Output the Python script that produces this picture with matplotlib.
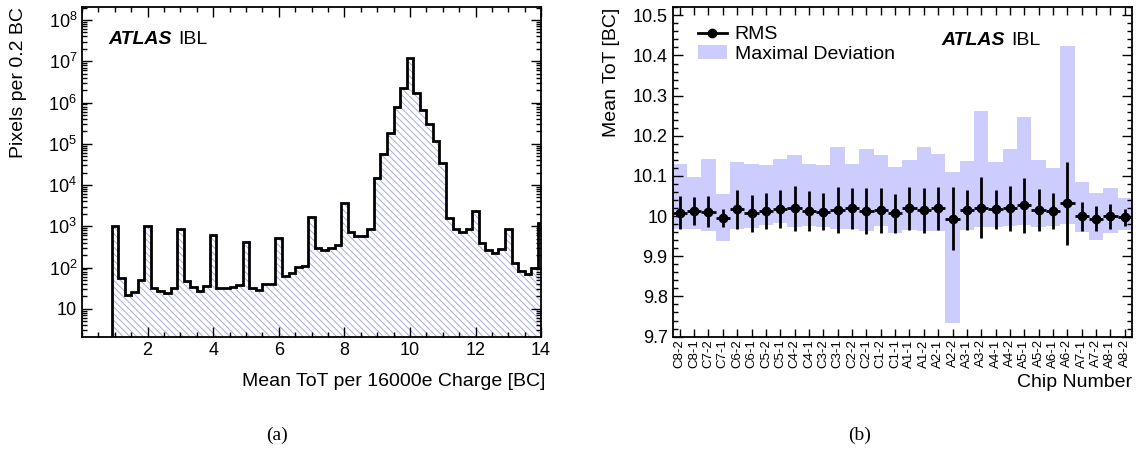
import numpy as np
import matplotlib
matplotlib.use("Agg")
import matplotlib.pyplot as plt
from matplotlib.lines import Line2D
from matplotlib.patches import Patch
from matplotlib.ticker import MultipleLocator, FixedLocator, FuncFormatter, LogLocator, NullFormatter

plt.rcParams['font.family'] = ['Liberation Sans', 'DejaVu Sans']
plt.rcParams['mathtext.default'] = 'regular'
plt.rcParams['hatch.linewidth'] = 0.7

# (a) ToT distribution, bins of 0.2 BC centred on 1.0 ... 14.0
tot_first_edge = 0.9
tot_bin_width = 0.2
pixel_counts = [
    1000, 56, 22, 26, 51,
    1000, 32, 27, 24, 32,
    870, 48, 34, 27, 36,
    630, 32, 32, 34, 37,
    420, 32, 29, 39, 39,
    515, 64, 72, 103, 110,
    1700, 300, 270, 290, 360,
    3600, 740, 580, 580, 870,
    15000, 55000, 182000, 760000, 2.2e6,
    1.17e7, 1.73e6, 650000, 310000, 120000,
    35000, 1550, 850, 740, 850,
    2350, 390, 265, 230, 285,
    870, 130, 81, 71, 98,
    1180,
]

# (b) mean ToT per front-end chip
chips = ["C8-2", "C8-1", "C7-2", "C7-1", "C6-2", "C6-1", "C5-2", "C5-1",
         "C4-2", "C4-1", "C3-2", "C3-1", "C2-2", "C2-1", "C1-2", "C1-1",
         "A1-1", "A1-2", "A2-1", "A2-2", "A3-1", "A3-2", "A4-1", "A4-2",
         "A5-1", "A5-2", "A6-1", "A6-2", "A7-1", "A7-2", "A8-1", "A8-2"]
mean_tot = [10.009, 10.012, 10.011, 9.996, 10.017, 10.007, 10.013, 10.017,
            10.019, 10.013, 10.011, 10.015, 10.019, 10.013, 10.015, 10.007,
            10.019, 10.015, 10.019, 9.994, 10.015, 10.021, 10.017, 10.019,
            10.027, 10.015, 10.013, 10.032, 10.000, 9.994, 10.000, 9.997]
rms_tot = [0.040, 0.035, 0.038, 0.022, 0.048, 0.046, 0.044, 0.047,
           0.055, 0.049, 0.046, 0.058, 0.050, 0.057, 0.056, 0.048,
           0.053, 0.056, 0.053, 0.078, 0.050, 0.076, 0.049, 0.056,
           0.069, 0.052, 0.045, 0.103, 0.036, 0.032, 0.031, 0.021]
dev_max = [10.129, 10.098, 10.143, 10.055, 10.134, 10.129, 10.127, 10.142,
           10.153, 10.129, 10.127, 10.172, 10.129, 10.168, 10.152, 10.122,
           10.139, 10.172, 10.154, 10.110, 10.137, 10.261, 10.135, 10.167,
           10.247, 10.139, 10.119, 10.423, 10.085, 10.058, 10.071, 10.044]
dev_min = [9.969, 9.968, 9.963, 9.938, 9.967, 9.970, 9.978, 9.983,
           9.972, 9.975, 9.972, 9.967, 9.969, 9.963, 9.975, 9.958,
           9.966, 9.964, 9.963, 9.735, 9.965, 9.973, 9.973, 9.975,
           9.977, 9.973, 9.975, 9.980, 9.961, 9.940, 9.957, 9.965]

band_color = "#ccccff"
hatch_color = "#a8a8e8"

fig = plt.figure(figsize=(11.44, 4.51), dpi=100)
ax1 = fig.add_axes([0.0717, 0.2528, 0.4013, 0.7317])
ax2 = fig.add_axes([0.5879, 0.2537, 0.4016, 0.7301])


def root_ticks(ax, major_len=7, minor_len=3.5):
    ax.tick_params(which="both", direction="in", top=True, right=True, width=1.0, colors="black")
    ax.tick_params(which="major", length=major_len)
    ax.tick_params(which="minor", length=minor_len)
    for s in ax.spines.values():
        s.set_linewidth(1.3)


# ---- panel (a)
edges = np.round(tot_first_edge + tot_bin_width * np.arange(len(pixel_counts) + 1), 2)
ax1.stairs(pixel_counts, edges, baseline=1e-3, fill=True, facecolor="none",
           edgecolor=hatch_color, hatch="\\\\\\\\\\", linewidth=0)
ax1.stairs(pixel_counts, edges, baseline=1e-3, color="black", linewidth=2)
ax1.set_yscale("log")
ax1.set_xlim(0, 14)
ax1.set_ylim(2.07, 2.07e8)
ax1.xaxis.set_major_locator(FixedLocator([2, 4, 6, 8, 10, 12, 14]))
ax1.xaxis.set_minor_locator(MultipleLocator(0.5))
ax1.yaxis.set_major_locator(LogLocator(base=10, numticks=20))
ax1.yaxis.set_minor_locator(LogLocator(base=10, subs=np.arange(2, 10), numticks=20))
ax1.yaxis.set_minor_formatter(NullFormatter())
ax1.yaxis.set_major_formatter(FuncFormatter(
    lambda v, p: "10" if round(np.log10(v)) == 1 else r"$10^{%d}$" % round(np.log10(v))))
root_ticks(ax1)
ax1.tick_params(labelsize=13)
ax1.set_xlabel("Mean ToT per 16000e Charge [BC]", fontsize=14, loc="right")
ax1.xaxis.set_label_coords(1.01, -0.11)
ax1.set_ylabel("Pixels per 0.2 BC", fontsize=14, loc="top")
ax1.yaxis.set_label_coords(-0.12, 1.0)
ax1.text(0.057, 0.9, "ATLAS", transform=ax1.transAxes, fontsize=14,
         fontweight="bold", fontstyle="italic", va="center")
ax1.text(0.209, 0.9, "IBL", transform=ax1.transAxes, fontsize=14, va="center")

# ---- panel (b)
x = np.arange(len(chips)) + 0.5
ax2.bar(x, np.array(dev_max) - np.array(dev_min), bottom=dev_min, width=1.0,
        color=band_color, linewidth=0)
ax2.errorbar(x, mean_tot, yerr=rms_tot, xerr=0.5, fmt="o", color="black",
             markersize=6, elinewidth=2, capsize=0)
ax2.set_xlim(0, len(chips))
ax2.set_ylim(9.7, 10.52)
ax2.set_xticks(x)
ax2.set_xticklabels(chips, rotation=90, fontsize=9.5)
ax2.yaxis.set_major_locator(MultipleLocator(0.1))
ax2.yaxis.set_minor_locator(MultipleLocator(0.02))
ax2.yaxis.set_major_formatter(FuncFormatter(lambda v, p: "%g" % round(v, 2)))
root_ticks(ax2, major_len=7, minor_len=3.5)
ax2.tick_params(axis="y", labelsize=13)
ax2.tick_params(axis="x", which="major", length=6, pad=2)
ax2.set_xlabel("Chip Number", fontsize=14, loc="right")
ax2.xaxis.set_label_coords(1.0, -0.115)
ax2.set_ylabel("Mean ToT [BC]", fontsize=14, loc="top")
ax2.yaxis.set_label_coords(-0.114, 1.0)
ax2.text(0.586, 0.9, "ATLAS", transform=ax2.transAxes, fontsize=14,
         fontweight="bold", fontstyle="italic", va="center")
ax2.text(0.738, 0.9, "IBL", transform=ax2.transAxes, fontsize=14, va="center")

handles = [Line2D([0], [0], color="black", marker="o", lw=2, markersize=6),
           Patch(facecolor=band_color, edgecolor="none")]
ax2.legend(handles, ["RMS", "Maximal Deviation"], loc="upper left",
           bbox_to_anchor=(0.025, 0.985), frameon=False, fontsize=14,
           handlelength=1.5, handletextpad=0.4, labelspacing=0.1, borderaxespad=0.3)

fig.text(277 / 1144, 1 - 435 / 451, "(a)", ha="center", va="center",
         fontsize=14, family=["Liberation Serif", "DejaVu Serif"])
fig.text(860 / 1144, 1 - 435 / 451, "(b)", ha="center", va="center",
         fontsize=14, family=["Liberation Serif", "DejaVu Serif"])

fig.savefig("out.png", dpi=100)
